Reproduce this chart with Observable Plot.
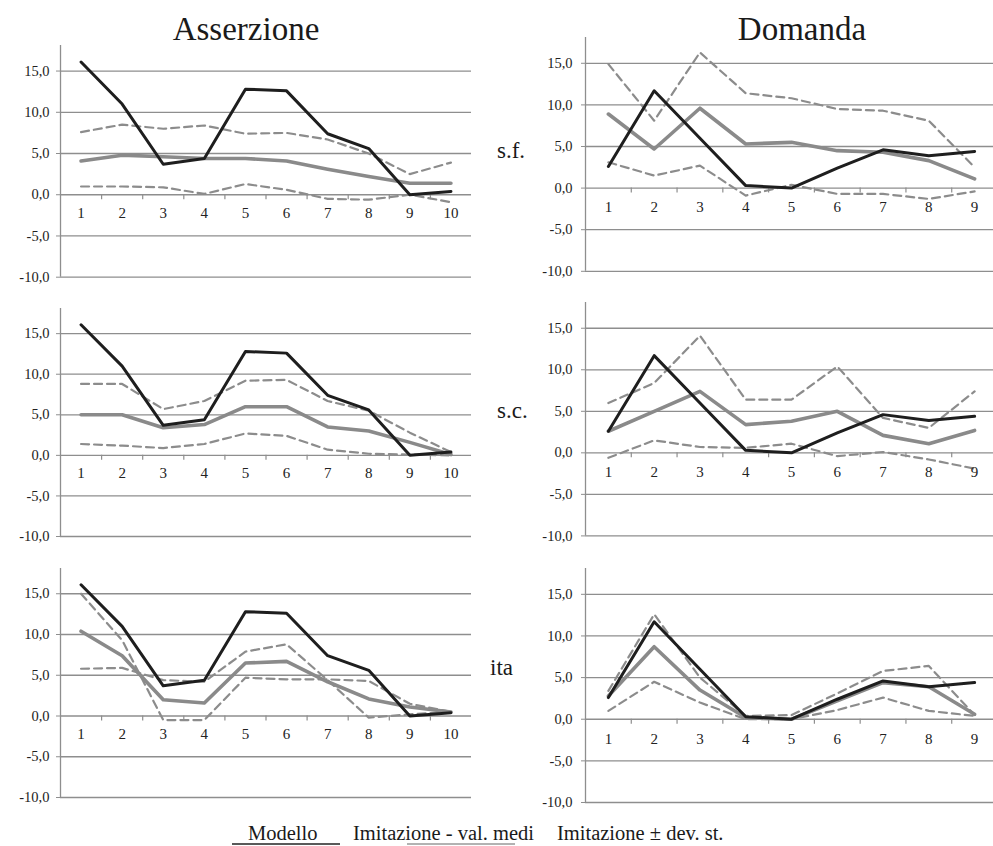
<!DOCTYPE html>
<html><head><meta charset="utf-8">
<script src="https://cdn.jsdelivr.net/npm/d3@7"></script>
<script src="https://cdn.jsdelivr.net/npm/@observablehq/plot@0.6"></script>
<style>
html,body{margin:0;padding:0;background:#fff;overflow:hidden}
#root{position:relative;width:993px;height:846px;overflow:hidden;background:#fff}
#root svg{position:absolute}
</style></head><body><div id="root"></div>
<script>
// ---- data ----
const catsA = [1, 2, 3, 4, 5, 6, 7, 8, 9, 10];
const catsD = [1, 2, 3, 4, 5, 6, 7, 8, 9];
const yTicks = [-10, -5, 0, 5, 10, 15];
const yMax = 18.1;

const colTitles = ["Asserzione", "Domanda"];
const rowLabels = ["s.f.", "s.c.", "ita"];
const legendLabels = ["Modello", "Imitazione - val. medi", "Imitazione ± dev. st."];

// Modello (same in every row)
const modelA = [16.1, 11.0, 3.7, 4.4, 12.8, 12.6, 7.4, 5.6, 0.0, 0.4];
const modelD = [2.6, 11.7, 6.0, 0.3, 0.0, 2.4, 4.6, 3.9, 4.4];

// Asserzione - s.f.
const meanAsf = [4.1, 4.8, 4.6, 4.4, 4.4, 4.1, 3.1, 2.2, 1.4, 1.4];
const hiAsf   = [7.6, 8.5, 8.0, 8.4, 7.4, 7.5, 6.7, 5.0, 2.5, 3.9];
const loAsf   = [1.0, 1.0, 0.9, 0.1, 1.3, 0.6, -0.5, -0.6, 0.0, -0.9];
// Asserzione - s.c.
const meanAsc = [5.0, 5.0, 3.4, 3.8, 6.0, 6.0, 3.5, 3.0, 1.6, 0.1];
const hiAsc   = [8.8, 8.8, 5.7, 6.7, 9.2, 9.3, 6.7, 5.5, 2.8, 0.4];
const loAsc   = [1.4, 1.2, 0.9, 1.4, 2.7, 2.4, 0.7, 0.2, 0.1, 0.0];
// Asserzione - ita
const meanAita = [10.4, 7.4, 2.0, 1.6, 6.5, 6.7, 4.2, 2.1, 1.1, 0.5];
const hiAita   = [15.0, 9.3, -0.5, -0.5, 4.7, 4.5, 4.5, 4.3, 1.5, 0.5];
const loAita   = [5.8, 5.9, 4.4, 4.2, 7.9, 8.8, 4.4, -0.2, 0.2, 0.5];

// Domanda - s.f.
const meanDsf = [8.9, 4.7, 9.6, 5.3, 5.5, 4.5, 4.3, 3.3, 1.1];
const hiDsf   = [14.9, 8.1, 16.3, 11.4, 10.8, 9.5, 9.3, 8.1, 2.5];
const loDsf   = [3.1, 1.5, 2.7, -0.9, 0.4, -0.7, -0.7, -1.3, -0.4];
// Domanda - s.c.
const meanDsc = [2.6, 5.0, 7.4, 3.4, 3.8, 5.0, 2.1, 1.1, 2.7];
const hiDsc   = [6.0, 8.4, 14.1, 6.4, 6.4, 10.4, 4.2, 3.0, 7.4];
const loDsc   = [-0.6, 1.5, 0.7, 0.6, 1.1, -0.4, 0.1, -0.8, -1.9];
// Domanda - ita
const meanDita = [2.8, 8.7, 3.5, 0.2, 0.0, 2.2, 4.4, 3.9, 0.6];
const hiDita   = [3.4, 12.6, 5.0, 0.4, 0.5, 3.1, 5.8, 6.4, 0.5];
const loDita   = [1.0, 4.5, 2.0, 0.0, 0.0, 1.1, 2.6, 1.0, 0.4];

// ---- style ----
const gridColor = "#8e8e8e";
const textColor = "#222";
const modelColor = "#1e1e1e";
const meanColor = "#8a8a8a";
const devColor = "#8c8c8c";
const serif = "'Liberation Serif', 'Times New Roman', serif";
const fmt = d => d.toFixed(1).replace(".", ",");
const root = document.getElementById("root");

function panel(cfg) {
  const {cats, model, mean, hi, lo, left, width, mLeft, frameTop, frameBottom, labelDy, tickPad} = cfg;
  const mt = 10, mb = 6;
  const n = cats.length;
  const bounds = cats.slice(0, -1).map(c => c + 0.5);
  const svg = Plot.plot({
    width,
    height: frameBottom - frameTop + mt + mb,
    marginLeft: mLeft, marginRight: 0, marginTop: mt, marginBottom: mb,
    x: {domain: [0.5, n + 0.5], axis: null},
    y: {domain: [-10, yMax], axis: null},
    style: {background: "transparent", overflow: "visible", fontFamily: serif, fontSize: "14px", color: textColor},
    marks: [
      Plot.ruleY(yTicks, {stroke: gridColor, strokeWidth: 1.3}),
      Plot.ruleX([0.5], {stroke: gridColor, strokeWidth: 1.3}),
      Plot.axisY({ticks: yTicks, tickSize: 4, tickPadding: tickPad, tickFormat: fmt, fontSize: 14.5, fontFamily: serif, stroke: gridColor, fill: textColor}),
      Plot.ruleX(bounds, {y1: 0, y2: -0.6, stroke: gridColor, strokeWidth: 1.2}),
      Plot.lineY(hi, {x: cats, stroke: devColor, strokeWidth: 2.2, strokeDasharray: "8,5"}),
      Plot.lineY(lo, {x: cats, stroke: devColor, strokeWidth: 2.2, strokeDasharray: "8,5"}),
      Plot.lineY(mean, {x: cats, stroke: meanColor, strokeWidth: 3.6}),
      Plot.lineY(model, {x: cats, stroke: modelColor, strokeWidth: 3}),
      Plot.text(cats, {x: d => d, y: 0, dy: labelDy, text: d => String(d), fontSize: 15, fontFamily: serif, fill: textColor})
    ]
  });
  svg.style.left = left + "px";
  svg.style.top = (frameTop - mt) + "px";
  root.append(svg);
}

const L = {left: 0, width: 471, mLeft: 60, labelDy: 18, tickPad: 7};
const R = {left: 500, width: 497, mLeft: 85, labelDy: 19.5, tickPad: 9};

panel({...L, cats: catsA, model: modelA, mean: meanAsf, hi: hiAsf, lo: loAsf, frameTop: 45, frameBottom: 276.7});
panel({...L, cats: catsA, model: modelA, mean: meanAsc, hi: hiAsc, lo: loAsc, frameTop: 307.7, frameBottom: 535.7});
panel({...L, cats: catsA, model: modelA, mean: meanAita, hi: hiAita, lo: loAita, frameTop: 567.7, frameBottom: 796.7});
panel({...R, cats: catsD, model: modelD, mean: meanDsf, hi: hiDsf, lo: loDsf, frameTop: 36.7, frameBottom: 270.5});
panel({...R, cats: catsD, model: modelD, mean: meanDsc, hi: hiDsc, lo: loDsc, frameTop: 302.3, frameBottom: 535.7});
panel({...R, cats: catsD, model: modelD, mean: meanDita, hi: hiDita, lo: loDita, frameTop: 567.7, frameBottom: 801.7});

// ---- titles, row labels, legend ----
const ov = d3.create("svg").attr("width", 993).attr("height", 846)
  .style("left", "0px").style("top", "0px").style("pointer-events", "none")
  .style("font-family", serif);
ov.append("text").attr("x", 246).attr("y", 40).attr("text-anchor", "middle")
  .attr("font-size", 33).attr("fill", "#1a1a1a").text(colTitles[0]);
ov.append("text").attr("x", 802).attr("y", 40).attr("text-anchor", "middle")
  .attr("font-size", 33).attr("fill", "#1a1a1a").text(colTitles[1]);
[[497, 158], [497, 418], [490, 675]].forEach(([x, y], i) => {
  ov.append("text").attr("x", x).attr("y", y).attr("font-size", 23).attr("fill", "#1a1a1a").text(rowLabels[i]);
});
ov.append("line").attr("x1", 232).attr("x2", 340).attr("y1", 844).attr("y2", 844).attr("stroke", "#222").attr("stroke-width", 1.5);
ov.append("line").attr("x1", 407).attr("x2", 515).attr("y1", 844).attr("y2", 844).attr("stroke", "#999").attr("stroke-width", 1.5);
[[248, legendLabels[0]], [353, legendLabels[1]], [557, legendLabels[2]]].forEach(([x, t]) => {
  ov.append("text").attr("x", x).attr("y", 840).attr("font-size", 20.5).attr("fill", "#1a1a1a").text(t);
});
root.prepend(ov.node());
</script></body></html>
